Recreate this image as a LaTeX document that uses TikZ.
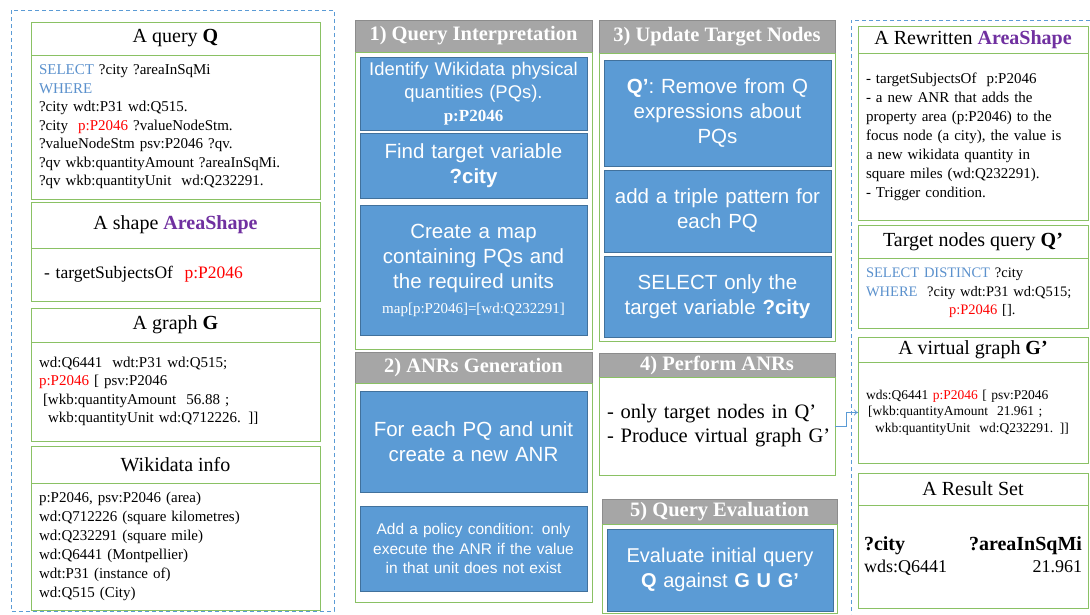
\documentclass[tikz,border=0pt]{standalone}
\usepackage{fontspec}
\setmainfont{Liberation Serif}
\setsansfont{Liberation Sans}
\usetikzlibrary{positioning}
\usetikzlibrary{arrows.meta}

\definecolor{boxgreen}{RGB}{138,193,100}
\definecolor{headgray}{RGB}{166,166,166}
\definecolor{headedge}{RGB}{140,140,140}
\definecolor{pqblue}{RGB}{91,155,213}
\definecolor{pqedge}{RGB}{65,113,156}
\definecolor{groupblue}{RGB}{91,155,213}
\definecolor{kwblue}{RGB}{91,145,205}
\definecolor{shapepurple}{RGB}{112,48,160}

\tikzset{
  panel/.style={draw=boxgreen, line width=1pt, fill=white, anchor=north west,
    outer sep=0pt, inner sep=0pt},
  boxtitle/.style={panel, align=center, font=\fontsize{20}{24}\selectfont},
  boxbody/.style={panel, align=left, inner xsep=8pt,
    font=\fontsize{15}{18.5}\selectfont},
  stephead/.style={fill=headgray, draw=headedge, line width=0.8pt,
    anchor=north west, outer sep=0pt, inner sep=0pt, text=white,
    font=\fontsize{20.5}{24}\selectfont\bfseries},
  pqbox/.style={fill=pqblue, draw=pqedge, line width=0.8pt, anchor=north west,
    outer sep=0pt, inner sep=4pt, text=white, align=center,
    font=\sffamily\fontsize{20.5}{25}\selectfont},
  groupbox/.style={draw=groupblue, line width=0.9pt, dash pattern=on 4pt off 3pt},
  flowarrow/.style={draw=groupblue, line width=0.8pt, -{To[length=4pt,width=6pt]}}
}

\begin{document}
\begin{tikzpicture}[x=1pt, y=-1pt]
  \useasboundingbox (0,0) rectangle (1090,614);

  % dashed groups
  \draw[groupbox] (11,10) rectangle (334,611);
  \draw[groupbox] (1090,20) -- (851,20) -- (851,614);

  % left column: inputs
  \node[boxtitle, minimum width=289pt, minimum height=33pt] (qtitle) at (31,22)
    {A query \textbf{Q}};
  \node[boxbody, minimum width=289pt, minimum height=144pt, text width=273pt,
    below=0pt of qtitle] (qbody)
    {\textcolor{kwblue}{SELECT} ?city ?areaInSqMi\\
     \textcolor{kwblue}{WHERE}\\
     ?city wdt:P31 wd:Q515.\\
     ?city\ \ \textcolor{red}{p:P2046} ?valueNodeStm.\\
     ?valueNodeStm psv:P2046 ?qv.\\
     ?qv wkb:quantityAmount ?areaInSqMi.\\
     ?qv wkb:quantityUnit\ \ wd:Q232291.};

  \node[boxtitle, minimum width=289pt, minimum height=46pt] (stitle) at (31,202)
    {A shape \textcolor{shapepurple}{\textbf{AreaShape}}};
  \node[boxbody, minimum width=289pt, minimum height=53pt, text width=273pt,
    font=\fontsize{17.5}{21}\selectfont, below=0pt of stitle] (sbody)
    {\hspace*{5pt}- targetSubjectsOf\ \ \textcolor{red}{p:P2046}};

  \node[boxtitle, minimum width=289pt, minimum height=34pt] (gtitle) at (31,308)
    {A graph \textbf{G}};
  \node[boxbody, minimum width=289pt, minimum height=99pt, text width=273pt,
    below=0pt of gtitle] (gbody)
    {wd:Q6441\ \ wdt:P31 wd:Q515;\\
     \textcolor{red}{p:P2046} [ psv:P2046\\
     \hspace*{4pt}[wkb:quantityAmount\ \ 56.88 ;\\
     \hspace*{9pt}wkb:quantityUnit wd:Q712226. ]]};

  \node[boxtitle, minimum width=289pt, minimum height=37pt] (wtitle) at (31,446)
    {Wikidata info};
  \node[boxbody, minimum width=289pt, minimum height=127pt, text width=273pt,
    font=\fontsize{15}{19}\selectfont, below=0pt of wtitle] (wbody)
    {p:P2046, psv:P2046 (area)\\
     wd:Q712226 (square kilometres)\\
     wd:Q232291 (square mile)\\
     wd:Q6441 (Montpellier)\\
     wdt:P31 (instance of)\\
     wd:Q515 (City)};

  % step 1
  \node[stephead, minimum width=237pt, minimum height=32pt] (h1) at (355,20)
    {1) Query Interpretation};
  \node[panel, minimum width=237pt, minimum height=297pt, below=0pt of h1] (b1) {};
  \node[pqbox, minimum width=227pt, minimum height=73pt, text width=219pt,
    font=\sffamily\fontsize{18.4}{23}\selectfont] (pq1) at (360,57)
    {Identify Wikidata physical\\ quantities (PQs).\\
     {\rmfamily\bfseries\fontsize{17}{22}\selectfont p:P2046}};
  \node[pqbox, minimum width=227pt, minimum height=65pt, text width=219pt] (pq2)
    at (360,133) {Find target variable\\ \textbf{?city}};
  \node[pqbox, minimum width=227pt, minimum height=130pt, text width=219pt] (pq3)
    at (360,205) {Create a map\\ containing PQs and\\ the required units\\
     {\rmfamily\fontsize{15}{18}\selectfont map[p:P2046]=[wd:Q232291]}};

  % step 2
  \node[stephead, minimum width=237pt, minimum height=31pt] (h2) at (355,352)
    {2) ANRs Generation};
  \node[panel, minimum width=237pt, minimum height=219pt, below=0pt of h2] (b2) {};
  \node[pqbox, minimum width=227pt, minimum height=101pt, text width=219pt] (anr1)
    at (360,391) {For each PQ and unit\\ create a new ANR};
  \node[pqbox, minimum width=227pt, minimum height=85pt, text width=219pt,
    font=\sffamily\fontsize{15.5}{19.5}\selectfont] (anr2) at (360,506)
    {Add a policy condition: only\\ execute the ANR if the value\\
     in that unit does not exist};

  % step 3
  \node[stephead, minimum width=236pt, minimum height=33pt] (h3) at (599,20)
    {3) Update Target Nodes};
  \node[panel, minimum width=236pt, minimum height=288pt, below=0pt of h3] (b3) {};
  \node[pqbox, minimum width=227pt, minimum height=106pt, text width=219pt] (up1)
    at (604,60) {\textbf{Q'}: Remove from Q\\ expressions about\\ PQs};
  \node[pqbox, minimum width=227pt, minimum height=82pt, text width=219pt] (up2)
    at (604,170) {add a triple pattern for\\ each PQ};
  \node[pqbox, minimum width=227pt, minimum height=81pt, text width=219pt] (up3)
    at (604,256) {SELECT only the\\ target variable \textbf{?city}};

  % step 4
  \node[stephead, minimum width=236pt, minimum height=24pt] (h4) at (599,353)
    {4) Perform ANRs};
  \node[panel, minimum width=236pt, minimum height=98pt, text width=228pt,
    inner xsep=4pt, align=left, font=\fontsize{20.5}{24}\selectfont,
    below=0pt of h4] (p4body)
    {\hspace*{4pt}- only target nodes in Q'\\ \hspace*{4pt}- Produce virtual graph G'};

  % step 5
  \node[stephead, minimum width=235pt, minimum height=25pt] (h5) at (602,499)
    {5) Query Evaluation};
  \node[panel, minimum width=235pt, minimum height=89pt, below=0pt of h5] (b5) {};
  \node[pqbox, minimum width=226pt, minimum height=82pt, text width=218pt,
    font=\sffamily\fontsize{20}{25}\selectfont] (eval) at (607,529)
    {Evaluate initial query\\ \textbf{Q} against \textbf{G U G'}};

  % right column: outputs
  \node[boxtitle, minimum width=230pt, minimum height=27pt] (rtitle) at (858,26)
    {A Rewritten \textcolor{shapepurple}{\textbf{AreaShape}}};
  \node[boxbody, minimum width=230pt, minimum height=167pt, text width=214pt,
    font=\fontsize{15}{19}\selectfont, below=0pt of rtitle] (rbody)
    {- targetSubjectsOf\ \ p:P2046\\
     - a new ANR that adds the\\
     property area (p:P2046) to the\\
     focus node (a city), the value is\\
     a new wikidata quantity in\\
     square miles (wd:Q232291).\\
     - Trigger condition.};

  \node[boxtitle, minimum width=230pt, minimum height=33pt] (ttitle) at (858,225)
    {Target nodes query \textbf{Q'}};
  \node[boxbody, minimum width=230pt, minimum height=70pt, text width=214pt,
    font=\fontsize{14.5}{18.5}\selectfont, below=0pt of ttitle] (tbody)
    {\textcolor{kwblue}{SELECT DISTINCT} ?city\\
     \textcolor{kwblue}{WHERE}\ \ ?city wdt:P31 wd:Q515;\\
     \hspace*{83pt}\textcolor{red}{p:P2046} [].};

  \node[boxtitle, minimum width=230pt, minimum height=25pt] (vtitle) at (858,337)
    {A virtual graph \textbf{G'}};
  \node[boxbody, minimum width=230pt, minimum height=101pt, text width=214pt,
    font=\fontsize{13.5}{16.5}\selectfont, below=0pt of vtitle] (vgbody)
    {wds:Q6441 \textcolor{red}{p:P2046} [ psv:P2046\\
     \hspace*{2pt}[wkb:quantityAmount\ \ 21.961 ;\\
     \hspace*{9pt}wkb:quantityUnit\ \ wd:Q232291. ]]};

  \node[boxtitle, minimum width=230pt, minimum height=32pt] (restitle) at (858,473)
    {A Result Set};
  \node[boxbody, minimum width=230pt, minimum height=103pt, text width=218pt,
    inner xsep=6pt, font=\fontsize{18}{22}\selectfont, below=0pt of restitle] (resbody)
    {{\fontsize{20}{22}\selectfont\textbf{?city}\hfill\textbf{?areaInSqMi}}\\
     wds:Q6441\hfill 21.961};

  % virtual graph goes to the output column
  \draw[flowarrow] (p4body.east) -- ++(11,0) |- (vgbody.west);
\end{tikzpicture}
\end{document}
